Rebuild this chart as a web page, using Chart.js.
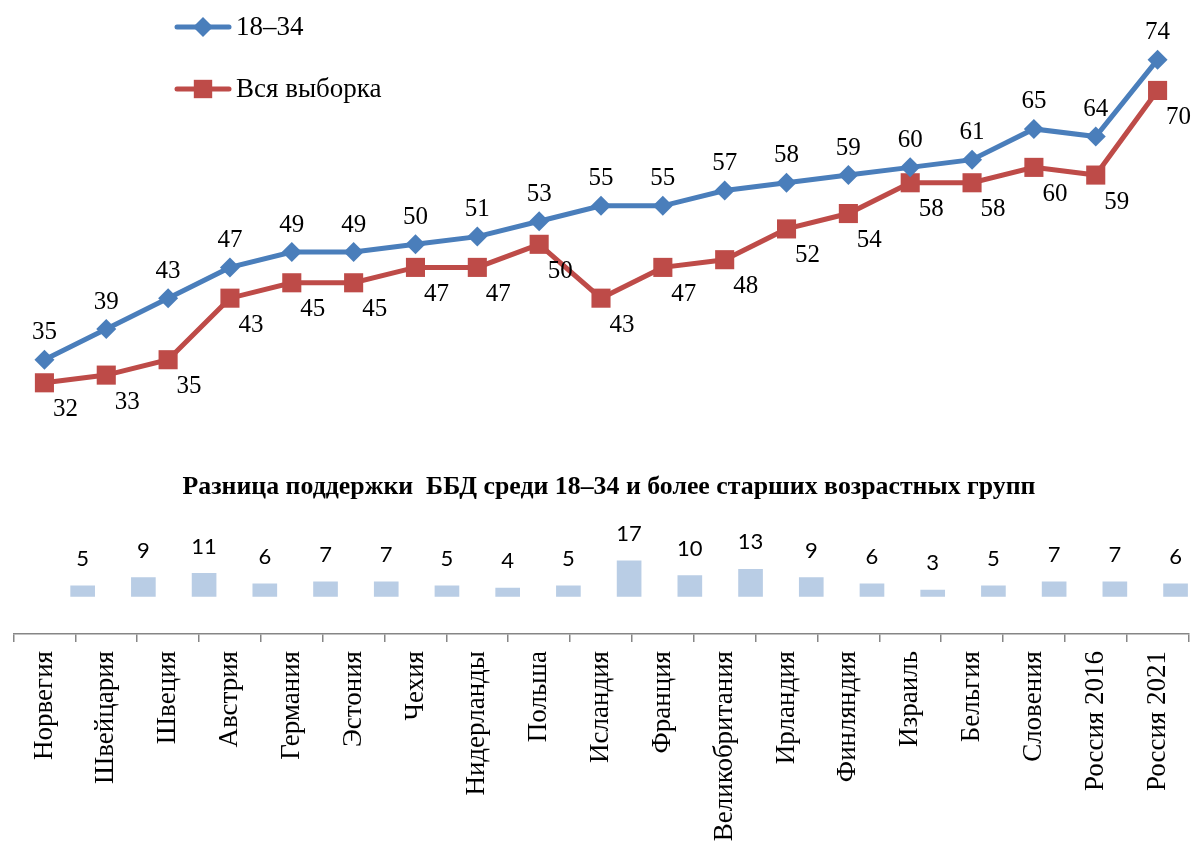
<!DOCTYPE html>
<html lang="ru">
<head>
<meta charset="utf-8">
<title>Поддержка ББД по странам</title>
<script src="https://cdn.jsdelivr.net/npm/chart.js@4.4.1/dist/chart.umd.min.js"></script>
<style>
  html, body { margin: 0; padding: 0; background: #fff; }
  canvas { display: block; }
</style>
</head>
<body>
<canvas id="grafico" width="1202" height="852"></canvas>
<script>
(function () {
  "use strict";

  // ---------- Данные ----------
  var strany = ["Норвегия", "Швейцария", "Швеция", "Австрия", "Германия", "Эстония", "Чехия",
    "Нидерланды", "Польша", "Исландия", "Франция", "Великобритания", "Ирландия", "Финляндия",
    "Израиль", "Бельгия", "Словения", "Россия 2016", "Россия 2021"];
  var molodye = [35, 39, 43, 47, 49, 49, 50, 51, 53, 55, 55, 57, 58, 59, 60, 61, 65, 64, 74];
  var vse = [32, 33, 35, 43, 45, 45, 47, 47, 50, 43, 47, 48, 52, 54, 58, 58, 60, 59, 70];
  var raznica = [5, 9, 11, 6, 7, 7, 5, 4, 5, 17, 10, 13, 9, 6, 3, 5, 7, 7, 6];
  var nazvaniya = ["18–34", "Вся выборка"];
  var zagolovok = "Разница поддержки  ББД среди 18–34 и более старших возрастных групп";

  var SINIY = "#4A7EBB", KRASNY = "#BE4B48", BAR = "#B9CDE5";
  var SERIF = "'Liberation Serif', 'DejaVu Serif', serif";

  // нижняя панель — своя горизонтальная шкала (столбики сдвинуты относительно подписей)
  var tochkiRaznicy = raznica.map(function (v, i) { return { x: i, y: v }; });

  // ---------- Подписи, легенда и заголовок ----------
  var podpisi = {
    id: "podpisi",
    afterDatasetsDraw: function (chart) {
      var ctx = chart.ctx;
      ctx.save();
      ctx.fillStyle = "#000";
      ctx.textAlign = "center";
      ctx.textBaseline = "middle";

      // значения над столбиками
      ctx.font = "22px Lato, 'Open Sans', sans-serif";
      chart.getDatasetMeta(2).data.forEach(function (el, i) {
        ctx.fillText(String(raznica[i]), el.x, el.y - 27);
      });

      // значения линий
      ctx.font = "25px " + SERIF;
      chart.getDatasetMeta(0).data.forEach(function (el, i) {
        ctx.fillText(String(molodye[i]), el.x, el.y - 27);
      });
      chart.getDatasetMeta(1).data.forEach(function (el, i) {
        ctx.fillText(String(vse[i]), el.x + 21, el.y + 27);
      });

      // легенда слева сверху
      var leg = [{ y: 27, c: SINIY, s: "rectRot", r: 10 }, { y: 89, c: KRASNY, s: "rect", r: 13 }];
      leg.forEach(function (l, i) {
        ctx.strokeStyle = l.c;
        ctx.lineWidth = 5;
        ctx.lineCap = "round";
        ctx.beginPath();
        ctx.moveTo(177, l.y);
        ctx.lineTo(229, l.y);
        ctx.stroke();
        ctx.fillStyle = l.c;
        Chart.helpers.drawPoint(ctx, { pointStyle: l.s, radius: l.r, borderWidth: 0 }, 203, l.y);
        ctx.fillStyle = "#000";
        ctx.textAlign = "left";
        ctx.font = "27px " + SERIF;
        ctx.fillText(nazvaniya[i], 236, l.y + 1);
      });

      // заголовок нижней панели (узкий жирный шрифт)
      ctx.font = "bold 26px " + SERIF;
      var w = ctx.measureText(zagolovok).width;
      ctx.translate(609, 487);
      ctx.scale(853 / w, 1);
      ctx.textAlign = "center";
      ctx.fillText(zagolovok, 0, 0);
      ctx.restore();
    }
  };

  new Chart(document.getElementById("grafico"), {
    data: {
      labels: strany,
      datasets: [
        { type: "line", label: nazvaniya[0], data: molodye, yAxisID: "y", order: 1,
          borderColor: SINIY, backgroundColor: SINIY, borderWidth: 5,
          pointStyle: "rectRot", pointRadius: 10, pointBorderWidth: 0, tension: 0, clip: false },
        { type: "line", label: nazvaniya[1], data: vse, yAxisID: "y", order: 2,
          borderColor: KRASNY, backgroundColor: KRASNY, borderWidth: 5,
          pointStyle: "rect", pointRadius: 13.5, pointBorderWidth: 0, tension: 0, clip: false },
        { type: "bar", label: "Разница", data: tochkiRaznicy, xAxisID: "x2", yAxisID: "y2", order: 3,
          backgroundColor: BAR, borderWidth: 0, grouped: false, barThickness: 24 }
      ]
    },
    options: {
      responsive: false,
      animation: false,
      devicePixelRatio: 1,
      layout: { padding: { top: 10, left: 11, right: 10, bottom: 0 } },
      plugins: { legend: { display: false }, tooltip: { enabled: false } },
      scales: {
        x: {
          offset: true,
          grid: { offset: true, drawOnChartArea: false, drawTicks: true, tickLength: 8, color: "#868686", lineWidth: 1.5 },
          border: { color: "#868686", width: 1.5 },
          ticks: { minRotation: 90, maxRotation: 90, autoSkip: false, padding: 9, color: "#000",
            font: { family: SERIF, size: 27 } },
          afterFit: function (s) { s.height = 218; }
        },
        x2: { type: "linear", display: false, offset: false, grid: { offset: false }, min: -1.139, max: 18.213 },
        y: { display: false, min: -0.65, max: 80 },
        y2: { display: false, min: -18, max: 279 }
      }
    },
    plugins: [podpisi]
  });
})();
</script>
</body>
</html>
